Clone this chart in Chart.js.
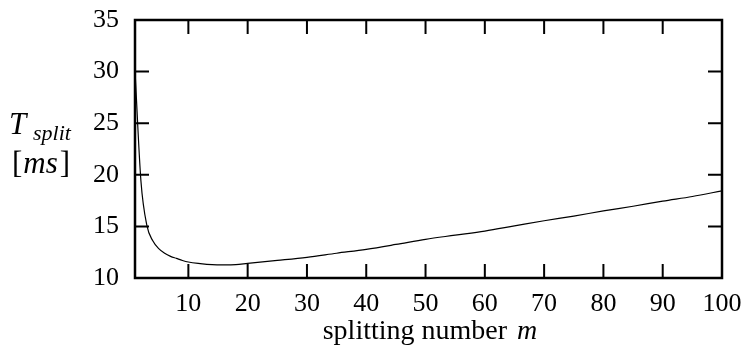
<!DOCTYPE html>
<html>
<head>
<meta charset="utf-8">
<script src="https://cdn.jsdelivr.net/npm/chart.js@4.4.1/dist/chart.umd.min.js"></script>
<style>
  html, body { margin: 0; padding: 0; background: #fff; }
  #wrap { width: 743px; height: 347px; }
</style>
</head>
<body>
<div id="wrap"><canvas id="chart" width="743" height="347"></canvas></div>
<script>
// splitting number m vs. T_split [ms]
const splitM = [1, 2, 3, 4, 5, 6, 7, 8, 9, 10, 12, 14, 16, 18, 20, 25, 30, 35, 40, 45, 50, 55, 60, 65, 70, 75, 80, 85, 90, 95, 100];
const tSplit = [30.1, 19.4, 15.1, 13.6, 12.85, 12.4, 12.1, 11.9, 11.7, 11.55, 11.4, 11.3, 11.28, 11.3, 11.42, 11.7, 12.0, 12.4, 12.78, 13.25, 13.75, 14.15, 14.55, 15.05, 15.55, 16.0, 16.5, 16.95, 17.45, 17.9, 18.45];
const xTicks = [10, 20, 30, 40, 50, 60, 70, 80, 90, 100];
const yTicks = [10, 15, 20, 25, 30, 35];

const serif = '"Liberation Serif", "DejaVu Serif", serif';

// frame + inward ticks on all four sides, drawn through the scales
const framePlugin = {
  id: 'frame',
  afterDraw(c) {
    const { ctx, chartArea: a, scales } = c;
    const len = 14;
    ctx.save();
    ctx.strokeStyle = '#000';
    ctx.lineWidth = 2;
    ctx.beginPath();
    xTicks.forEach((v) => {
      const x = scales.x.getPixelForValue(v);
      if (x <= a.left + 1 || x >= a.right - 1) return;
      ctx.moveTo(x, a.bottom); ctx.lineTo(x, a.bottom - len);
      ctx.moveTo(x, a.top); ctx.lineTo(x, a.top + len);
    });
    yTicks.forEach((v) => {
      const y = scales.y.getPixelForValue(v);
      if (y <= a.top + 1 || y >= a.bottom - 1) return;
      ctx.moveTo(a.left, y); ctx.lineTo(a.left + len, y);
      ctx.moveTo(a.right, y); ctx.lineTo(a.right - len, y);
    });
    ctx.stroke();
    ctx.lineWidth = 2.5;
    ctx.strokeRect(a.left, a.top, a.right - a.left, a.bottom - a.top);

    // axis titles
    ctx.fillStyle = '#000';
    ctx.textBaseline = 'alphabetic';
    ctx.textAlign = 'left';
    ctx.font = 'italic 31px ' + serif;
    ctx.fillText('T', 9, 134);
    ctx.font = 'italic 22px ' + serif;
    ctx.fillText('split', 33, 140);

    let x = 12;
    ctx.font = '31px ' + serif;
    ctx.fillText('[', x, 173);
    x += ctx.measureText('[').width + 1;
    ctx.font = 'italic 31px ' + serif;
    ctx.fillText('ms', x, 173);
    x += ctx.measureText('ms').width + 2;
    ctx.font = '31px ' + serif;
    ctx.fillText(']', x, 173);

    const plain = 'splitting number ';
    ctx.font = '28px ' + serif;
    const w1 = ctx.measureText(plain).width;
    ctx.font = 'italic 28px ' + serif;
    const w2 = ctx.measureText('m').width;
    const tx = (a.left + a.right) / 2 - (w1 + w2) / 2;
    ctx.font = '28px ' + serif;
    ctx.fillText(plain, tx, 339);
    ctx.font = 'italic 28px ' + serif;
    ctx.fillText('m', tx + w1 + 3, 339);
    ctx.restore();
  },
};

new Chart(document.getElementById('chart'), {
  type: 'line',
  data: {
    datasets: [{
      data: splitM.map((m, i) => ({ x: m, y: tSplit[i] })),
      borderColor: '#000',
      borderWidth: 1.2,
      pointRadius: 0,
      cubicInterpolationMode: 'monotone',
      fill: false,
    }],
  },
  options: {
    responsive: false,
    animation: false,
    layout: { padding: { top: 20, right: 21, left: 0, bottom: 0 } },
    plugins: { legend: { display: false }, tooltip: { enabled: false } },
    scales: {
      x: {
        type: 'linear',
        min: 1,
        max: 100,
        afterBuildTicks: (s) => { s.ticks = xTicks.map((v) => ({ value: v })); },
        afterFit: (s) => { s.height = 69; s.paddingLeft = 0; s.paddingRight = 0; },
        grid: { display: false, drawTicks: false },
        border: { display: false },
        ticks: { color: '#000', font: { family: serif, size: 26 }, padding: 11, maxRotation: 0, autoSkip: false },
      },
      y: {
        min: 10,
        max: 35,
        afterBuildTicks: (s) => { s.ticks = yTicks.map((v) => ({ value: v })); },
        afterFit: (s) => { s.width = 135; s.paddingTop = 0; s.paddingBottom = 0; },
        grid: { display: false, drawTicks: false },
        border: { display: false },
        ticks: { color: '#000', font: { family: serif, size: 26 }, padding: 16 },
      },
    },
  },
  plugins: [framePlugin],
});
</script>
</body>
</html>
